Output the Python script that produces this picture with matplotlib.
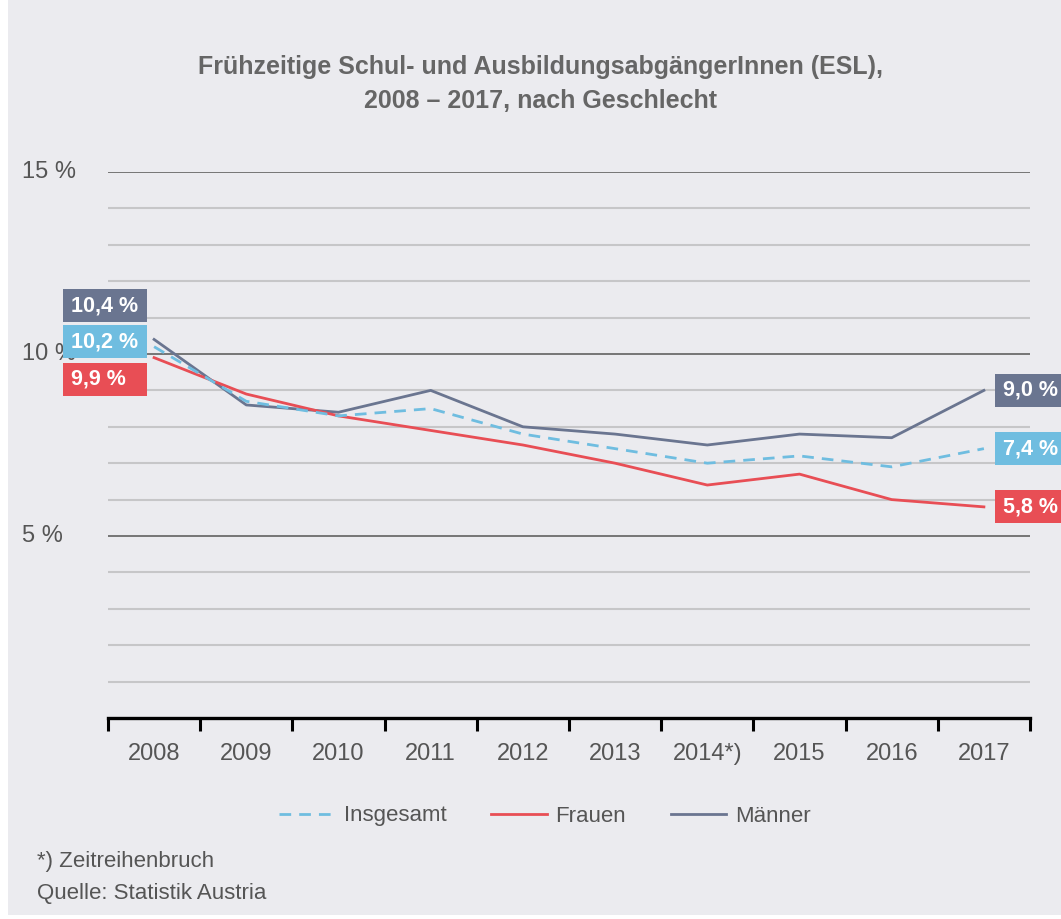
import matplotlib.pyplot as plt
from matplotlib.patches import Rectangle
from matplotlib.transforms import blended_transform_factory

plt.rcParams['font.family'] = ['Liberation Sans', 'DejaVu Sans']

jahre = ["2008", "2009", "2010", "2011", "2012", "2013", "2014*)", "2015", "2016", "2017"]
insgesamt = [10.2, 8.7, 8.3, 8.5, 7.8, 7.4, 7.0, 7.2, 6.9, 7.4]
frauen = [9.9, 8.9, 8.3, 7.9, 7.5, 7.0, 6.4, 6.7, 6.0, 5.8]
maenner = [10.4, 8.6, 8.4, 9.0, 8.0, 7.8, 7.5, 7.8, 7.7, 9.0]

c_ins = "#6fbde0"
c_fr = "#e84e55"
c_ma = "#6a7590"
bg = "#ebebef"
txt = "#555555"

W, H = 1061, 919
fig = plt.figure(figsize=(W / 100, H / 100), dpi=100, facecolor="white")
fig.patches.append(Rectangle((8 / W, 4 / H), 1, 1, transform=fig.transFigure,
                             facecolor=bg, edgecolor="none", zorder=-10))

ax = fig.add_axes([108 / W, (H - 718) / H, (1030 - 108) / W, (718 - 172) / H])
ax.patch.set_alpha(0)
x = list(range(len(jahre)))
ax.set_xlim(-0.5, len(jahre) - 0.5)
ax.set_ylim(0, 15)

# gridlines
for v in range(1, 16):
    if v % 5 == 0:
        ax.axhline(v, color="#555555", lw=1.1, zorder=1)
    else:
        ax.axhline(v, color="#c6c6c8", lw=1.5, zorder=1)

ax.plot(x, maenner, color=c_ma, lw=2.0, zorder=3, label="Männer")
ax.plot(x, frauen, color=c_fr, lw=2.0, zorder=4, label="Frauen")
ax.plot(x, insgesamt, color=c_ins, lw=2.0, dashes=(4.2, 2.9), zorder=5, label="Insgesamt")

for s in ["top", "right", "left"]:
    ax.spines[s].set_visible(False)
ax.spines["bottom"].set_linewidth(2.4)
ax.spines["bottom"].set_color("black")
ax.set_yticks([])
ax.set_xticks(x)
ax.set_xticklabels(jahre, fontsize=17, color=txt)
ax.tick_params(axis="x", which="major", length=0, pad=18)
ax.set_xticks([i - 0.5 for i in range(len(jahre) + 1)], minor=True)
ax.tick_params(axis="x", which="minor", length=9, width=2.2, color="black", direction="out")

# y labels
ytr = blended_transform_factory(fig.transFigure, ax.transData)
for v in [5, 10, 15]:
    ax.text(22 / W, v, f"{v} %", transform=ytr, fontsize=17, color=txt,
            ha="left", va="center", zorder=2)

# value boxes
bw = 84 / 92.2
bh = 33 / 36.4

def box(x0, yc, col, label):
    ax.add_patch(Rectangle((x0, yc - bh / 2), bw, bh, facecolor=col, edgecolor="none",
                           clip_on=False, zorder=6))
    ax.text(x0 + 8 / 92.2, yc, label, color="white", fontsize=15.5, fontweight="bold",
            ha="left", va="center", zorder=7, clip_on=False)

def fmt(v):
    return f"{v:.1f}".replace(".", ",") + " %"

lx = -0.5 - 45 / 92.2
box(lx, 11.32, c_ma, fmt(maenner[0]))
box(lx, 10.33, c_ins, fmt(insgesamt[0]))
box(lx, 9.31, c_fr, fmt(frauen[0]))

rx = 9.5 - 35 / 92.2
box(rx, maenner[-1], c_ma, fmt(maenner[-1]))
box(rx, insgesamt[-1], c_ins, fmt(insgesamt[-1]))
box(rx, frauen[-1], c_fr, fmt(frauen[-1]))

fig.text(540 / W, 1 - 84 / H,
         "Frühzeitige Schul- und AusbildungsabgängerInnen (ESL),\n2008 – 2017, nach Geschlecht",
         ha="center", va="center", fontsize=18, fontweight="bold", color="#666666", linespacing=1.5)

h = ax.get_legend_handles_labels()[0]
fig.legend([h[2], h[1], h[0]], ["Insgesamt", "Frauen", "Männer"], loc="center",
           bbox_to_anchor=(545 / W, 1 - 816 / H), ncol=3, frameon=False, fontsize=16,
           handlelength=2.5, handletextpad=0.4, columnspacing=2.0, labelcolor=txt)

fig.text(37 / W, 1 - 862 / H, "*) Zeitreihenbruch", fontsize=16, color=txt, ha="left", va="center")
fig.text(37 / W, 1 - 893 / H, "Quelle: Statistik Austria", fontsize=16, color=txt, ha="left", va="center")

fig.savefig("out.png", dpi=100, facecolor="white")
